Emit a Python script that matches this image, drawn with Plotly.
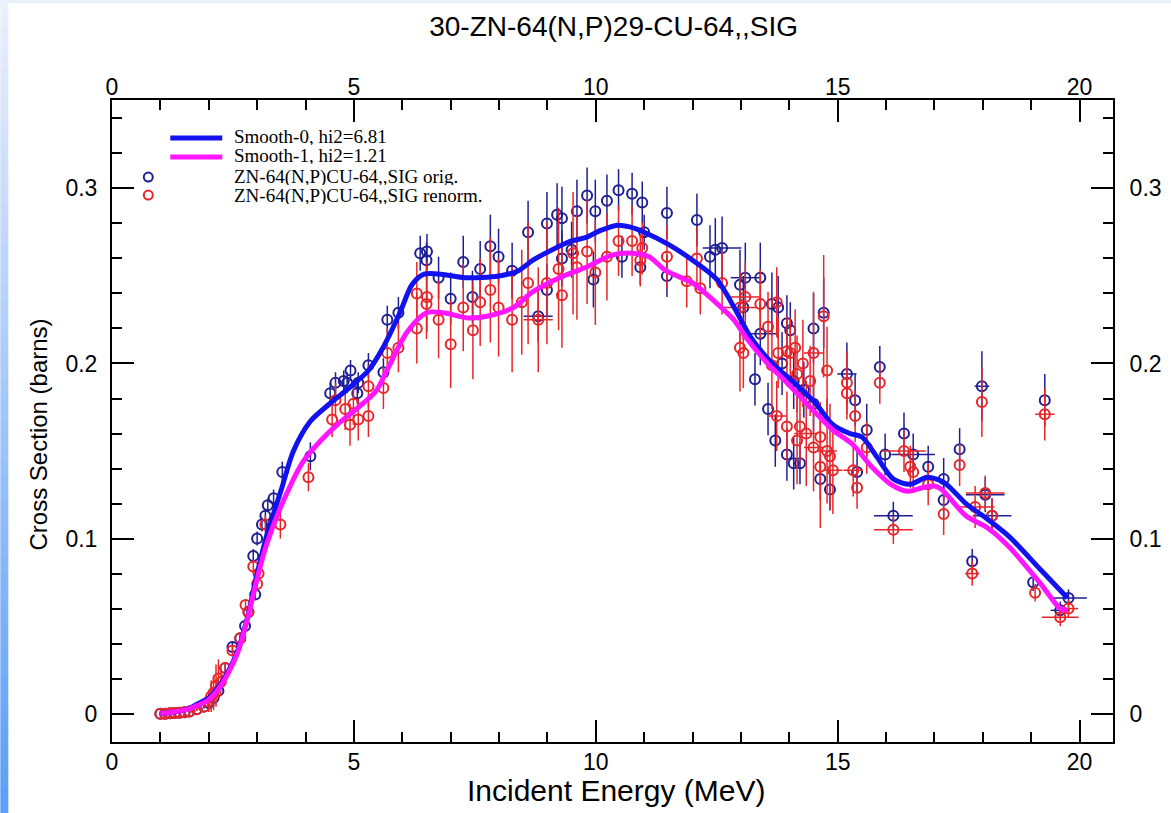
import plotly.graph_objects as go

# ---- smooth evaluations ----
smooth0_x = [1.0, 1.5, 1.8, 2.0, 2.2, 2.4, 2.6, 2.8, 3.0, 3.2, 3.5, 3.75, 4.1, 4.5, 4.9, 5.3,
             5.6, 5.95, 6.2, 6.45, 6.8, 7.3, 8.0, 8.4, 8.7, 9.1, 9.5, 9.8, 10.1, 10.45, 10.7,
             11.0, 11.5, 12.0, 12.5, 12.9, 13.2, 13.65, 14.1, 14.55, 14.9, 15.25, 15.5, 15.8,
             16.15, 16.5, 16.85, 17.2, 17.65, 18.1, 18.55, 19.2, 19.75]
smooth0_y = [0.000, 0.002, 0.006, 0.009, 0.015, 0.024, 0.036, 0.055, 0.080, 0.102, 0.128, 0.150,
             0.167, 0.177, 0.186, 0.196, 0.209, 0.229, 0.245, 0.251, 0.251, 0.249, 0.250, 0.253,
             0.259, 0.265, 0.270, 0.272, 0.276, 0.279, 0.278, 0.275, 0.268, 0.259, 0.248, 0.230,
             0.215, 0.200, 0.189, 0.177, 0.165, 0.160, 0.158, 0.147, 0.134, 0.131, 0.135, 0.132,
             0.120, 0.111, 0.101, 0.082, 0.066]

smooth1_x = [1.0, 1.5, 1.8, 2.0, 2.2, 2.4, 2.6, 2.8, 3.0, 3.2, 3.55, 3.95, 4.35, 4.65, 5.05, 5.45,
             5.7, 6.1, 6.5, 6.85, 7.35, 7.75, 8.3, 8.7, 9.25, 9.8, 10.35, 10.75, 11.1, 11.45,
             12.0, 12.35, 12.85, 13.1, 13.55, 13.95, 14.5, 14.9, 15.3, 15.7, 16.1, 16.45, 16.75,
             17.0, 17.15, 17.65, 18.1, 18.55, 19.2, 19.6, 19.75]
smooth1_y = [0.000, 0.002, 0.005, 0.008, 0.014, 0.023, 0.035, 0.054, 0.077, 0.097, 0.122, 0.144,
             0.157, 0.165, 0.174, 0.184, 0.197, 0.218, 0.229, 0.229, 0.226, 0.227, 0.232, 0.241,
             0.249, 0.255, 0.262, 0.263, 0.261, 0.253, 0.246, 0.238, 0.225, 0.215, 0.200, 0.189,
             0.173, 0.162, 0.154, 0.141, 0.131, 0.127, 0.129, 0.130, 0.128, 0.113, 0.106, 0.095,
             0.074, 0.060, 0.059]

# ---- experimental data, original normalisation ----
orig_x = [1.00, 1.10, 1.20, 1.30, 1.40, 1.50, 1.60, 1.75, 1.90, 2.00, 2.10, 2.20, 2.34, 2.49,
          2.65, 2.75, 2.82, 2.92, 2.96, 3.00, 3.10, 3.17, 3.22, 3.34, 3.52, 4.10, 4.51, 4.62,
          4.79, 4.86, 4.93, 5.07, 5.09, 5.30, 5.61, 5.69, 5.92, 6.37, 6.50, 6.51, 6.75, 7.00,
          7.26, 7.45, 7.61, 7.82, 7.99, 8.27, 8.60, 8.81, 8.99, 8.99, 9.20, 9.30, 9.30, 9.50,
          9.61, 9.82, 9.95, 9.99, 10.23, 10.47, 10.54, 10.75, 10.92, 10.96, 11.00, 11.47, 11.47,
          12.09, 12.36, 12.47, 12.61, 12.98, 13.05, 13.09, 13.29, 13.40, 13.40, 13.56, 13.64,
          13.71, 13.77, 13.85, 13.95, 13.95, 14.02, 14.09, 14.09, 14.22, 14.30, 14.50, 14.50,
          14.64, 14.71, 14.84, 15.19, 15.36, 15.40, 15.60, 15.87, 15.98, 16.15, 16.37, 16.56,
          16.87, 17.19, 17.19, 17.52, 17.78, 17.98, 18.05, 18.19, 19.04, 19.28, 19.60, 19.77]
orig_y = [0.0000, 0.0000, 0.0002, 0.0003, 0.0005, 0.0008, 0.0012, 0.0025, 0.0040, 0.0060, 0.0090,
          0.0130, 0.0260, 0.0380, 0.0430, 0.0500, 0.0580, 0.0900, 0.0680, 0.1000, 0.1080, 0.1130,
          0.1190, 0.1230, 0.1380, 0.1470, 0.1830, 0.1890, 0.1900, 0.1890, 0.1960, 0.1830, 0.1890,
          0.1990, 0.1950, 0.2250, 0.2290, 0.2630, 0.2590, 0.2640, 0.2490, 0.2370, 0.2580, 0.2380,
          0.2540, 0.2670, 0.2610, 0.2530, 0.2750, 0.2270, 0.2800, 0.2420, 0.2850, 0.2830, 0.2600,
          0.2650, 0.2870, 0.2960, 0.2480, 0.2870, 0.2930, 0.2990, 0.2610, 0.2970, 0.2550, 0.2920,
          0.2750, 0.2860, 0.2500, 0.2820, 0.2610, 0.2650, 0.2660, 0.2450, 0.2320, 0.2490, 0.1910,
          0.2490, 0.2170, 0.1740, 0.2340, 0.1560, 0.2320, 0.2000, 0.2230, 0.1480, 0.2190, 0.1900,
          0.1430, 0.1430, 0.1850, 0.2200, 0.1770, 0.1340, 0.2290, 0.1280, 0.1940, 0.1790, 0.1380,
          0.1620, 0.1980, 0.1480, 0.1130, 0.1600, 0.1480, 0.1410, 0.1340, 0.1220, 0.1510, 0.0870,
          0.1870, 0.1250, 0.1130, 0.0750, 0.1790, 0.0590, 0.0660]
orig_dy = [0.0005, 0.0005, 0.0005, 0.0005, 0.0005, 0.0005, 0.0005, 0.001, 0.001, 0.002, 0.003,
           0.004, 0.003, 0.003, 0.003, 0.003, 0.003, 0.004, 0.003, 0.004, 0.004, 0.004, 0.004,
           0.005, 0.006, 0.008, 0.006, 0.006, 0.006, 0.006, 0.006, 0.006, 0.006, 0.007, 0.008,
           0.008, 0.009, 0.010, 0.010, 0.010, 0.012, 0.015, 0.015, 0.015, 0.016, 0.018, 0.016,
           0.016, 0.018, 0.015, 0.018, 0.015, 0.018, 0.018, 0.016, 0.016, 0.018, 0.016, 0.016,
           0.018, 0.015, 0.012, 0.012, 0.012, 0.010, 0.012, 0.010, 0.015, 0.012, 0.015, 0.018,
           0.018, 0.018, 0.020, 0.018, 0.020, 0.015, 0.020, 0.018, 0.015, 0.018, 0.015, 0.018,
           0.018, 0.016, 0.015, 0.016, 0.016, 0.015, 0.012, 0.016, 0.020, 0.016, 0.012, 0.020,
           0.012, 0.018, 0.015, 0.012, 0.015, 0.012, 0.012, 0.008, 0.012, 0.012, 0.012, 0.012,
           0.010, 0.012, 0.007, 0.020, 0.010, 0.010, 0.005, 0.015, 0.005, 0.005]
orig_dx = [0] * 49 + [0.30] + [0] * 22 + [0.40, 0, 0, 0.30, 0, 0, 0.35] + [0] * 17 \
          + [0.20, 0, 0, 0, 0, 0, 0.40, 0, 0.45, 0, 0, 0, 0, 0, 0.15, 0.40, 0.40, 0, 0,
             0.20, 0.38, 0.20, 0.20]

# ---- experimental data, renormalised ----
renorm_x = [1.00, 1.10, 1.20, 1.30, 1.40, 1.50, 1.60, 1.75, 1.90, 2.00, 2.05, 2.10, 2.15, 2.20,
            2.25, 2.34, 2.49, 2.65, 2.76, 2.82, 2.92, 3.00, 3.03, 3.17, 3.48, 4.06, 4.55, 4.62,
            4.82, 4.92, 4.99, 5.09, 5.30, 5.30, 5.61, 5.69, 5.92, 6.30, 6.30, 6.50, 6.51, 6.75,
            7.00, 7.26, 7.46, 7.61, 7.82, 7.99, 8.27, 8.47, 8.60, 8.81, 8.99, 9.23, 9.30, 9.53,
            9.61, 9.82, 9.99, 10.23, 10.47, 10.75, 10.92, 10.96, 11.47, 11.88, 12.09, 12.16,
            12.61, 12.98, 12.98, 13.05, 13.09, 13.40, 13.56, 13.64, 13.74, 13.74, 13.77, 13.95,
            13.95, 14.02, 14.12, 14.16, 14.16, 14.22, 14.28, 14.35, 14.43, 14.50, 14.50, 14.64,
            14.64, 14.71, 14.78, 14.78, 14.84, 14.90, 15.19, 15.19, 15.32, 15.36, 15.40, 15.60,
            15.87, 16.15, 16.37, 16.50, 16.56, 16.87, 17.19, 17.52, 17.78, 17.84, 17.98, 18.05,
            18.19, 19.08, 19.28, 19.60, 19.77]
renorm_y = [0.0000, 0.0000, 0.0002, 0.0003, 0.0005, 0.0008, 0.0012, 0.0025, 0.0040, 0.0070,
            0.0100, 0.0120, 0.0160, 0.0200, 0.0180, 0.0260, 0.0360, 0.0430, 0.0620, 0.0580,
            0.0840, 0.0740, 0.0800, 0.1080, 0.1080, 0.1350, 0.1680, 0.1790, 0.1740, 0.1650,
            0.1770, 0.1680, 0.1700, 0.1870, 0.1860, 0.2060, 0.2090, 0.2200, 0.2400, 0.2340,
            0.2380, 0.2250, 0.2110, 0.2320, 0.2190, 0.2350, 0.2420, 0.2320, 0.2250, 0.2350,
            0.2460, 0.2250, 0.2460, 0.2540, 0.2390, 0.2630, 0.2550, 0.2640, 0.2520, 0.2610,
            0.2700, 0.2700, 0.2590, 0.2660, 0.2610, 0.2470, 0.2600, 0.2430, 0.2460, 0.2320,
            0.2090, 0.2060, 0.2380, 0.2340, 0.2210, 0.1990, 0.2350, 0.1700, 0.2060, 0.2070,
            0.1640, 0.2060, 0.2090, 0.1940, 0.1560, 0.1640, 0.2000, 0.1600, 0.1900, 0.2060,
            0.1520, 0.1580, 0.1410, 0.2270, 0.1960, 0.1500, 0.1470, 0.1390, 0.1890, 0.1830,
            0.1390, 0.1700, 0.1290, 0.1520, 0.1890, 0.1050, 0.1500, 0.1410, 0.1380, 0.1310,
            0.1140, 0.1420, 0.0800, 0.1180, 0.1780, 0.1260, 0.1130, 0.0690, 0.1710, 0.0550,
            0.0600]
renorm_dy = [0.0005, 0.0005, 0.0005, 0.0005, 0.0005, 0.0005, 0.0005, 0.001, 0.001, 0.006,
             0.009, 0.010, 0.012, 0.011, 0.008, 0.003, 0.003, 0.003, 0.003, 0.003, 0.004,
             0.004, 0.004, 0.005, 0.008, 0.008, 0.010, 0.010, 0.012, 0.012, 0.012, 0.012,
             0.012, 0.012, 0.012, 0.014, 0.014, 0.020, 0.018, 0.020, 0.020, 0.022, 0.025,
             0.025, 0.028, 0.025, 0.030, 0.028, 0.030, 0.030, 0.035, 0.030, 0.035, 0.035,
             0.030, 0.035, 0.030, 0.030, 0.030, 0.025, 0.020, 0.020, 0.015, 0.015, 0.018,
             0.015, 0.018, 0.015, 0.018, 0.020, 0.025, 0.020, 0.020, 0.020, 0.020, 0.025,
             0.020, 0.020, 0.020, 0.020, 0.020, 0.020, 0.022, 0.022, 0.025, 0.020, 0.025,
             0.030, 0.020, 0.035, 0.025, 0.020, 0.035, 0.035, 0.025, 0.030, 0.030, 0.025,
             0.018, 0.015, 0.015, 0.015, 0.012, 0.015, 0.012, 0.008, 0.012, 0.012, 0.012,
             0.012, 0.012, 0.012, 0.007, 0.012, 0.020, 0.010, 0.010, 0.005, 0.015, 0.005,
             0.005]
renorm_dx = [0] * 51 + [0.30] + [0] * 17 + [0.35, 0, 0, 0.30] + [0] * 4 + [0.20] + [0] * 9 \
            + [0.25, 0, 0.20, 0.20, 0, 0, 0, 0, 0.20, 0, 0.20, 0, 0, 0.20, 0, 0, 0, 0,
               0.40, 0.45, 0, 0, 0, 0, 0, 0.15, 0.40, 0, 0.40, 0, 0, 0.20, 0.38, 0.20, 0.20]

BLUE_PTS = "#1f1f94"
RED_PTS = "#e8262a"
SMOOTH0 = "#1212ee"
SMOOTH1 = "#ff16ff"

X_RANGE = [0, 20.69]
Y_RANGE = [-0.0162, 0.3505]

fig = go.Figure()

fig.add_trace(go.Scatter(
    x=orig_x, y=orig_y, mode="markers", name="ZN-64(N,P)CU-64,,SIG orig.",
    marker=dict(symbol="circle-open", size=10, color=BLUE_PTS, line=dict(width=2, color=BLUE_PTS)),
    error_y=dict(type="data", array=orig_dy, visible=True, thickness=1.5, width=0, color=BLUE_PTS),
    error_x=dict(type="data", array=orig_dx, visible=True, thickness=1.5, width=0, color=BLUE_PTS),
))
fig.add_trace(go.Scatter(
    x=renorm_x, y=renorm_y, mode="markers", name="ZN-64(N,P)CU-64,,SIG renorm.",
    marker=dict(symbol="circle-open", size=10, color=RED_PTS, line=dict(width=2, color=RED_PTS)),
    error_y=dict(type="data", array=renorm_dy, visible=True, thickness=1.5, width=0, color=RED_PTS),
    error_x=dict(type="data", array=renorm_dx, visible=True, thickness=1.5, width=0, color=RED_PTS),
))
fig.add_trace(go.Scatter(
    x=smooth0_x, y=smooth0_y, mode="lines", name="Smooth-0, hi2=6.81",
    line=dict(color=SMOOTH0, width=5, shape="spline", smoothing=0.8),
))
fig.add_trace(go.Scatter(
    x=smooth1_x, y=smooth1_y, mode="lines", name="Smooth-1, hi2=1.21",
    line=dict(color=SMOOTH1, width=5, shape="spline", smoothing=0.8),
))
# carrier for the mirrored top/right axes
fig.add_trace(go.Scatter(x=[X_RANGE[0]], y=[Y_RANGE[0]], xaxis="x2", yaxis="y2", mode="markers",
                         marker=dict(opacity=0), showlegend=False, hoverinfo="skip"))

tick_font = dict(family="Liberation Sans, Arial, sans-serif", size=23, color="black")
common = dict(showline=True, linewidth=2, linecolor="black", ticks="inside", ticklen=22,
              tickwidth=2, tickcolor="black", showgrid=False, zeroline=False, tickfont=tick_font,
              automargin=False)

fig.update_layout(
    width=1171, height=813,
    margin=dict(l=112, r=58, t=100, b=71),
    paper_bgcolor="white", plot_bgcolor="white",
    showlegend=False,
    title=dict(text="30-ZN-64(N,P)29-CU-64,,SIG", x=0.524, xanchor="center", y=0.968,
               yanchor="middle", font=dict(family="Liberation Sans, Arial, sans-serif",
                                           size=28, color="black")),
    xaxis=dict(range=X_RANGE, dtick=5, tick0=0, ticklabelstandoff=-2,
               minor=dict(ticks="inside", ticklen=10, tickwidth=2, dtick=1, tickcolor="black"),
               **common),
    xaxis2=dict(range=X_RANGE, dtick=5, tick0=0, overlaying="x", side="top", anchor="y",
                ticklabelstandoff=-6,
                minor=dict(ticks="inside", ticklen=10, tickwidth=2, dtick=1, tickcolor="black"),
                **common),
    yaxis=dict(range=Y_RANGE, dtick=0.1, tick0=0, ticklabelstandoff=8,
               minor=dict(ticks="inside", ticklen=10, tickwidth=2, dtick=0.02, tickcolor="black"),
               **common),
    yaxis2=dict(range=Y_RANGE, dtick=0.1, tick0=0, overlaying="y", side="right", anchor="x",
                ticklabelstandoff=10,
                minor=dict(ticks="inside", ticklen=10, tickwidth=2, dtick=0.02, tickcolor="black"),
                **common),
)

# axis titles
PW, PH, PL, PB = 1001.3, 641.7, 111.7, 741.7


def px_x(p):
    return (p - PL) / PW


def px_y(p):
    return (PB - p) / PH


axis_font = dict(family="Liberation Sans, Arial, sans-serif", color="black")
fig.add_annotation(text="Incident Energy (MeV)", xref="paper", yref="paper", x=px_x(616),
                   y=px_y(790), xanchor="center", yanchor="middle", showarrow=False,
                   font=dict(size=30, **axis_font))
fig.add_annotation(text="Cross Section (barns)", xref="paper", yref="paper", x=px_x(38),
                   y=px_y(434), xanchor="center", yanchor="middle", showarrow=False,
                   textangle=-90, font=dict(size=24, **axis_font))

# legend block: rows are set tightly, so each label box is kept to the row pitch
legend_font = dict(family="Liberation Serif, Times New Roman, serif", size=19, color="black")
legend_rows = [("Smooth-0, hi2=6.81", 136), ("Smooth-1, hi2=1.21", 155),
               ("ZN-64(N,P)CU-64,,SIG orig.", 176), ("ZN-64(N,P)CU-64,,SIG renorm.", 195)]
for label, py in legend_rows:
    fig.add_annotation(text=label, xref="paper", yref="paper", x=px_x(234), y=px_y(py),
                       xanchor="left", yanchor="middle", showarrow=False, font=legend_font,
                       borderpad=0, borderwidth=0, height=17, valign="middle")
for color, py in [(SMOOTH0, 138), (SMOOTH1, 157)]:
    fig.add_shape(type="line", xref="paper", yref="paper", x0=px_x(170), x1=px_x(222),
                  y0=px_y(py), y1=px_y(py), line=dict(color=color, width=5))
for color, py in [(BLUE_PTS, 177), (RED_PTS, 195)]:
    fig.add_shape(type="circle", xref="paper", yref="paper", x0=px_x(143.5), x1=px_x(152.5),
                  y0=px_y(py + 4.5), y1=px_y(py - 4.5), line=dict(color=color, width=2))

# page decoration: shaded strip along the left edge and a thin band on top
n_bands = 60
top_rgb = (234, 239, 252)
bot_rgb = (92, 158, 248)
for i in range(n_bands):
    t = i / (n_bands - 1)
    r, g, b = (round(top_rgb[k] + (bot_rgb[k] - top_rgb[k]) * t) for k in range(3))
    y_top = 813 * i / n_bands
    y_bot = 813 * (i + 1) / n_bands + 0.5
    fig.add_shape(type="rect", xref="paper", yref="paper", x0=px_x(0), x1=px_x(8),
                  y0=px_y(y_bot), y1=px_y(y_top), line=dict(width=0),
                  fillcolor=f"rgb({r},{g},{b})", layer="above")
fig.add_shape(type="rect", xref="paper", yref="paper", x0=px_x(0), x1=px_x(1171),
              y0=px_y(3), y1=px_y(0), line=dict(width=0), fillcolor="rgb(234,239,252)",
              layer="above")

fig.write_html("out.html")
